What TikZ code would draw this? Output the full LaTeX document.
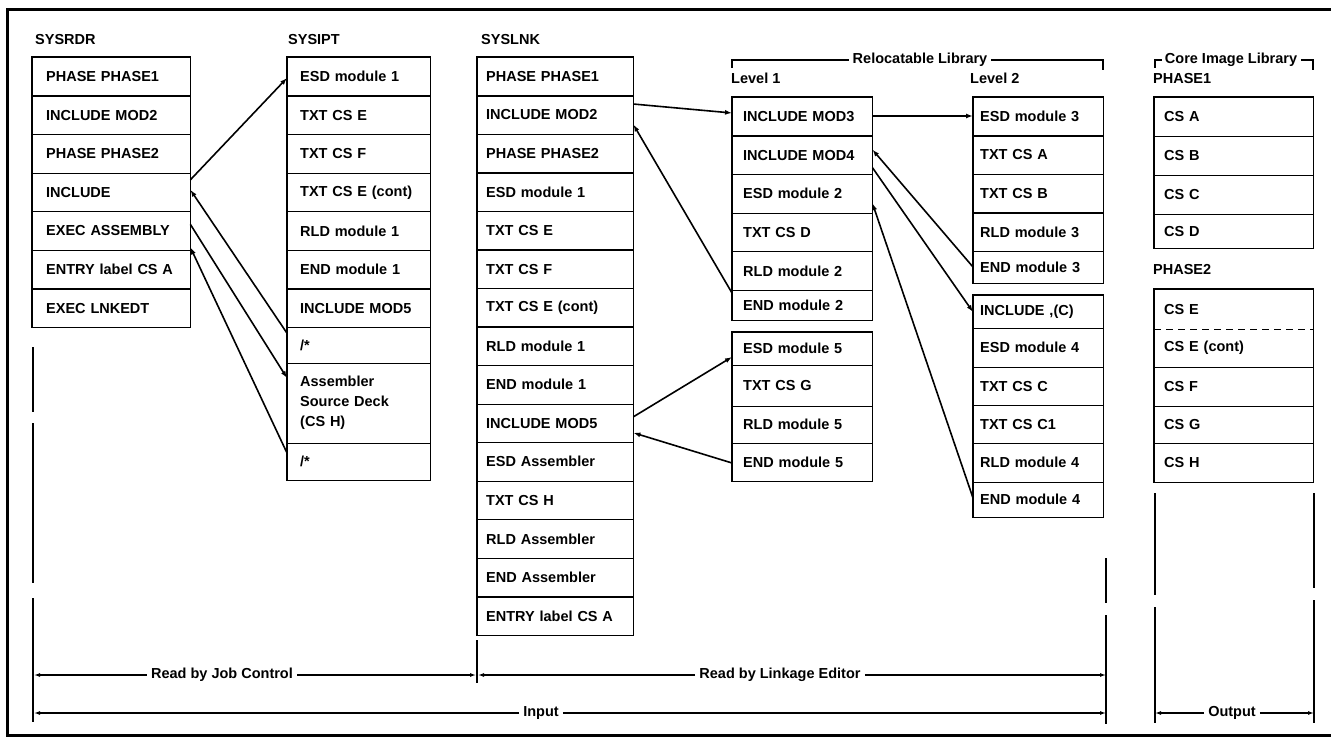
\documentclass[tikz,border=0pt]{standalone}
\usepackage{fontspec}
\setmainfont{Liberation Sans}
\usetikzlibrary{arrows.meta,calc}
\newcommand\cellfnt{\fontsize{14.5pt}{16pt}\selectfont\bfseries}
\newcommand\deckfnt{\fontsize{14.5pt}{20pt}\selectfont\bfseries}
\newcommand\lblfnt{\fontsize{14.5pt}{16pt}\selectfont\bfseries}
\begin{document}
\begin{tikzpicture}[x=1pt,y=-1pt,
  cell/.style={anchor=north west, inner ysep=0pt, align=left, font=\cellfnt, draw=none},
  colR/.style={cell, text width=130pt, inner xsep=14pt},
  colI/.style={cell, text width=117pt, inner xsep=13pt},
  colL/.style={cell, text width=138pt, inner xsep=9pt},
  colA/.style={cell, text width=118pt, inner xsep=11pt},
  colB/.style={cell, text width=116pt, inner xsep=7pt},
  colC/.style={cell, text width=139pt, inner xsep=10pt},
  boxline/.style={line width=1.6pt},
  divline/.style={line width=1.3pt},
  conn/.style={line width=1.6pt, -{Latex[length=7pt,width=5pt]}},
  lbl/.style={inner sep=0pt, font=\lblfnt},
  dlbl/.style={inner xsep=4pt, inner ysep=0pt, font=\lblfnt},
  dimline/.style={line width=1.1pt, -{Latex[length=6pt,width=4pt]}},
  ext/.style={line width=1.1pt},
  brk/.style={line width=1.1pt}]
\useasboundingbox (0,0) rectangle (1331,746);
% frame
\draw[line width=3pt] (1331,10) -- (7,10) -- (7,735) -- (1331,735);

% headings
\node[lbl, anchor=west] (tR) at (35,40) {SYSRDR};
\node[lbl, anchor=west] (tI) at (288,40) {SYSIPT};
\node[lbl, anchor=west] (tL) at (481,40) {SYSLNK};
\node[lbl, anchor=west] (tA) at (731,78) {Level 1};
\node[lbl, anchor=west] (tB) at (970,78) {Level 2};
\node[lbl, anchor=west] (tP1) at (1153,79) {PHASE1};
\node[lbl, anchor=west] (tP2) at (1153,270) {PHASE2};
\node[lbl] (tRel) at (920,60) {Relocatable Library};
\node[lbl] (tCore) at (1231,60) {Core Image Library};
\draw[brk] ([xshift=-4pt]tRel.west) -| (732,68);
\draw[brk] ([xshift=4pt]tRel.east) -| (1103,70);
\draw[brk] ([xshift=-3pt]tCore.west) -| (1155,68);
\draw[brk] ([xshift=4pt]tCore.east) -| (1313,70);

% SYSRDR
\node[colR, minimum height=38.6pt] (r1) at (32,57) {PHASE PHASE1};
\node[colR, minimum height=38.6pt] (r2) at (32,95.6) {INCLUDE MOD2};
\node[colR, minimum height=38.6pt] (r3) at (32,134.2) {PHASE PHASE2};
\node[colR, minimum height=38.6pt] (r4) at (32,172.8) {INCLUDE};
\node[colR, minimum height=38.6pt] (r5) at (32,211.4) {EXEC ASSEMBLY};
\node[colR, minimum height=38.6pt] (r6) at (32,250) {ENTRY label CS A};
\node[colR, minimum height=38.6pt] (r7) at (32,288.6) {EXEC LNKEDT};
\draw[boxline] (r1.north west) rectangle (r7.south east);
\foreach \n in {r1,r2,r3,r4,r5,r6} \draw[divline] (\n.south west) -- (\n.south east);

% SYSIPT
\node[colI, minimum height=38.6pt] (i1) at (287,57) {ESD module 1};
\node[colI, minimum height=38.6pt] (i2) at (287,95.6) {TXT CS E};
\node[colI, minimum height=38.6pt] (i3) at (287,134.2) {TXT CS F};
\node[colI, minimum height=38.6pt] (i4) at (287,172.8) {TXT CS E (cont)};
\node[colI, minimum height=38.6pt] (i5) at (287,211.4) {RLD module 1};
\node[colI, minimum height=38.6pt] (i6) at (287,250) {END module 1};
\node[colI, minimum height=38.6pt] (i7) at (287,288.6) {INCLUDE MOD5};
\node[colI, minimum height=35.8pt] (i8) at (287,327.2) {/*};
\node[colI, minimum height=80pt, font=\deckfnt] (i9) at (287,363) {Assembler\\Source Deck\\(CS H)};
\node[colI, minimum height=37pt] (i10) at (287,443) {/*};
\draw[boxline] (i1.north west) rectangle (i10.south east);
\foreach \n in {i1,i2,i3,i4,i5,i6,i7,i8,i9} \draw[divline] (\n.south west) -- (\n.south east);

% SYSLNK
\node[colL, minimum height=38.53pt] (l1) at (477,57) {PHASE PHASE1};
\node[colL, minimum height=38.53pt] (l2) at (477,95.53) {INCLUDE MOD2};
\node[colL, minimum height=38.53pt] (l3) at (477,134.07) {PHASE PHASE2};
\node[colL, minimum height=38.53pt] (l4) at (477,172.6) {ESD module 1};
\node[colL, minimum height=38.53pt] (l5) at (477,211.13) {TXT CS E};
\node[colL, minimum height=38.53pt] (l6) at (477,249.67) {TXT CS F};
\node[colL, minimum height=38.53pt] (l7) at (477,288.2) {TXT CS E (cont)};
\node[colL, minimum height=38.53pt] (l8) at (477,326.73) {RLD module 1};
\node[colL, minimum height=38.53pt] (l9) at (477,365.27) {END module 1};
\node[colL, minimum height=38.53pt] (l10) at (477,403.8) {INCLUDE MOD5};
\node[colL, minimum height=38.53pt] (l11) at (477,442.33) {ESD Assembler};
\node[colL, minimum height=38.53pt] (l12) at (477,480.87) {TXT CS H};
\node[colL, minimum height=38.53pt] (l13) at (477,519.4) {RLD Assembler};
\node[colL, minimum height=38.53pt] (l14) at (477,557.93) {END Assembler};
\node[colL, minimum height=38.53pt] (l15) at (477,596.47) {ENTRY label CS A};
\draw[boxline] (l1.north west) rectangle (l15.south east);
\foreach \n in {l1,l2,l3,l4,l5,l6,l7,l8,l9,l10,l11,l12,l13,l14} \draw[divline] (\n.south west) -- (\n.south east);

% Level 1, module 2
\node[colA, minimum height=38.6pt] (a1) at (732,97) {INCLUDE MOD3};
\node[colA, minimum height=38.6pt] (a2) at (732,135.6) {INCLUDE MOD4};
\node[colA, minimum height=38.6pt] (a3) at (732,174.2) {ESD module 2};
\node[colA, minimum height=38.6pt] (a4) at (732,212.8) {TXT CS D};
\node[colA, minimum height=38.6pt] (a5) at (732,251.4) {RLD module 2};
\node[colA, minimum height=30pt] (a6) at (732,290) {END module 2};
\draw[boxline] (a1.north west) rectangle (a6.south east);
\foreach \n in {a1,a2,a3,a4,a5} \draw[divline] (\n.south west) -- (\n.south east);

% Level 1, module 5
\node[colA, minimum height=33pt] (m1) at (732,332) {ESD module 5};
\node[colA, minimum height=41pt] (m2) at (732,365) {TXT CS G};
\node[colA, minimum height=37pt] (m3) at (732,406) {RLD module 5};
\node[colA, minimum height=38pt] (m4) at (732,443) {END module 5};
\draw[boxline] (m1.north west) rectangle (m4.south east);
\foreach \n in {m1,m2,m3} \draw[divline] (\n.south west) -- (\n.south east);

% Level 2, module 3
\node[colB, minimum height=38.5pt] (b1) at (973,97) {ESD module 3};
\node[colB, minimum height=38.5pt] (b2) at (973,135.5) {TXT CS A};
\node[colB, minimum height=38.5pt] (b3) at (973,174) {TXT CS B};
\node[colB, minimum height=38.5pt] (b4) at (973,212.5) {RLD module 3};
\node[colB, minimum height=32pt] (b5) at (973,251) {END module 3};
\draw[boxline] (b1.north west) rectangle (b5.south east);
\foreach \n in {b1,b2,b3,b4} \draw[divline] (\n.south west) -- (\n.south east);

% Level 2, module 4
\node[colB, minimum height=33pt] (c1) at (973,295) {INCLUDE ,(C)};
\node[colB, minimum height=39pt] (c2) at (973,328) {ESD module 4};
\node[colB, minimum height=38pt] (c3) at (973,367) {TXT CS C};
\node[colB, minimum height=38pt] (c4) at (973,405) {TXT CS C1};
\node[colB, minimum height=39pt] (c5) at (973,443) {RLD module 4};
\node[colB, minimum height=35pt] (c6) at (973,482) {END module 4};
\draw[boxline] (c1.north west) rectangle (c6.south east);
\foreach \n in {c1,c2,c3,c4,c5} \draw[divline] (\n.south west) -- (\n.south east);

% Core image library PHASE1
\node[colC, minimum height=39pt] (p1) at (1154,97) {CS A};
\node[colC, minimum height=39pt] (p2) at (1154,136) {CS B};
\node[colC, minimum height=39pt] (p3) at (1154,175) {CS C};
\node[colC, minimum height=34pt] (p4) at (1154,214) {CS D};
\draw[boxline] (p1.north west) rectangle (p4.south east);
\foreach \n in {p1,p2,p3} \draw[divline] (\n.south west) -- (\n.south east);

% PHASE2
\node[colC, minimum height=40pt] (q1) at (1154,289) {CS E};
\node[colC, minimum height=38pt] (q2) at (1154,329) {CS E (cont)};
\node[colC, minimum height=39pt] (q3) at (1154,367) {CS F};
\node[colC, minimum height=37pt] (q4) at (1154,406) {CS G};
\node[colC, minimum height=39pt] (q5) at (1154,443) {CS H};
\draw[boxline] (q1.north west) rectangle (q5.south east);
\draw[divline, dash pattern=on 7pt off 5pt] (q1.south west) -- (q1.south east);
\foreach \n in {q2,q3,q4} \draw[divline] (\n.south west) -- (\n.south east);

% connectors
\draw[conn] ([yshift=-7pt]r4.north east) -- ([yshift=-21pt]i1.north west);
\draw[conn] ([yshift=-6pt]i8.north west) -- ([yshift=-17pt]r4.north east);
\draw[conn] ([yshift=-13pt]r5.north east) -- ([yshift=-15pt]i9.north west);
\draw[conn] ([yshift=-10pt]i10.north west) -- ([yshift=3pt]r5.south east);

\draw[conn] ([yshift=-8.5pt]l2.north east) -- ([yshift=-16pt]a1.north west);
\draw[conn] ([yshift=-3pt]a6.north west) -- ([yshift=-29pt]l2.north east);
\draw[conn] ([yshift=-19pt]a1.north east) -- ([yshift=-19pt]b1.north west);
\draw[conn] ([yshift=-16pt]b5.north west) -- ([yshift=-14pt]a2.north east);
\draw[conn] ([yshift=-32pt]a2.north east) -- ([yshift=-17pt]c1.north west);
\draw[conn] ([yshift=-16pt]c6.north west) -- ([yshift=-29pt]a3.north east);

\draw[conn] ([yshift=-13pt]l10.north east) -- ([yshift=-25pt]m1.north west);
\draw[conn] ([yshift=-20pt]m4.north west) -- ([yshift=-29pt]l10.north east);

% extension lines
\draw[ext] (33,347) -- (33,412) (33,423) -- (33,583) (33,598) -- (33,722);
\draw[ext] (477,640) -- (477,683);
\draw[ext] (1106,558) -- (1106,603) (1106,615) -- (1106,724);
\draw[ext] (1155,493) -- (1155,595) (1155,607) -- (1155,723);
\draw[ext] (1314,493) -- (1314,588) (1314,600) -- (1314,723);

% dimension lines
\coordinate (jcL) at (34,675);
\coordinate (jcR) at (476,675);
\coordinate (leL) at (478,675);
\coordinate (leR) at (1106,675);
\coordinate (inL) at (34,713);
\coordinate (inR) at (1106,713);
\coordinate (outL) at (1155,713);
\coordinate (outR) at (1314,713);
\node[dlbl] (jc) at (222,675) {Read by Job Control};
\node[dlbl] (le) at (780,675) {Read by Linkage Editor};
\node[dlbl] (inp) at (541,713) {Input};
\node[dlbl] (outp) at (1232,713) {Output};
\draw[dimline] (jc.west) -- (jcL);
\draw[dimline] (jc.east) -- (jcR);
\draw[dimline] (le.west) -- (leL);
\draw[dimline] (le.east) -- (leR);
\draw[dimline] (inp.west) -- (inL);
\draw[dimline] (inp.east) -- (inR);
\draw[dimline] (outp.west) -- (outL);
\draw[dimline] (outp.east) -- (outR);
\end{tikzpicture}
\end{document}
